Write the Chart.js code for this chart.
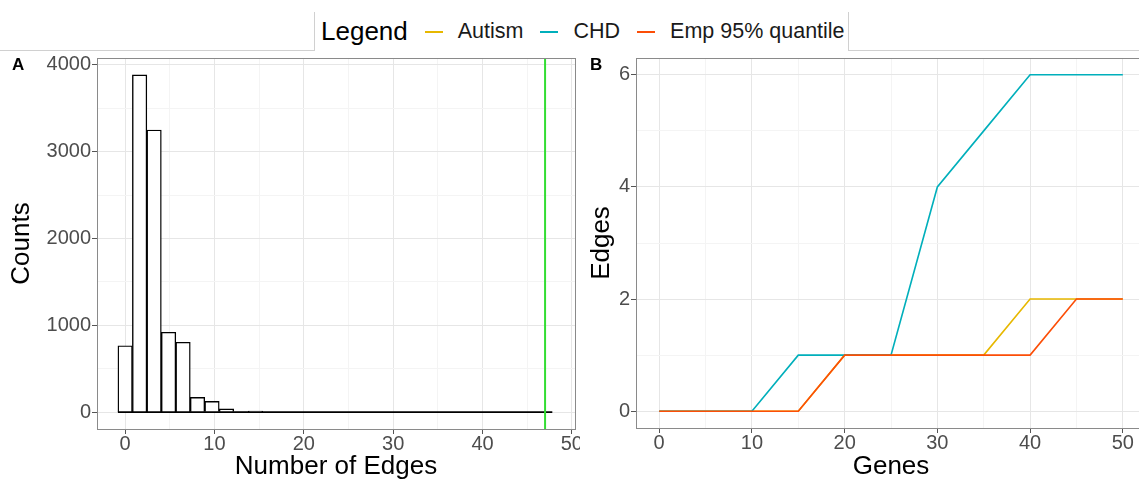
<!DOCTYPE html>
<html>
<head>
<meta charset="utf-8">
<script src="https://cdn.jsdelivr.net/npm/chart.js@4.4.1/dist/chart.umd.min.js"></script>
<style>
  html, body { margin: 0; padding: 0; background: #fff; }
  body { width: 1139px; height: 482px; position: relative; overflow: hidden; font-family: 'Liberation Sans', Arial, sans-serif; }
  .frame-line { position: absolute; background: #d0d0d0; }
  #legend { position: absolute; left: 314px; top: 12px; height: 39px; display: flex; align-items: center; padding-left: 7px; box-sizing: border-box; white-space: nowrap; }
  #legend .ttl { font-size: 26px; color: #000; margin-right: 17px; }
  #legend .item { display: flex; align-items: center; margin-right: 17px; font-size: 21.5px; color: #1a1a1a; white-space: nowrap; }
  #legend .sw { width: 18px; height: 2px; margin-right: 15px; flex: none; }
  .panel-tag { position: absolute; font-weight: bold; font-size: 17px; color: #000; }
  #wrapA { position: absolute; left: 0; top: 0; width: 580px; height: 482px; }
  #wrapB { position: absolute; left: 580px; top: 0; width: 580px; height: 482px; }
</style>
</head>
<body>
<div class="frame-line" style="left:0; top:50px; width:314px; height:1px;"></div>
<div class="frame-line" style="left:314px; top:12px; width:1px; height:39px;"></div>
<div class="frame-line" style="left:848px; top:12px; width:1px; height:39px;"></div>
<div class="frame-line" style="left:848px; top:50px; width:291px; height:1px;"></div>
<div id="legend"><span class="ttl">Legend</span></div>

<div id="wrapA"><canvas id="histChart"></canvas></div>
<div id="wrapB"><canvas id="curveChart"></canvas></div>
<div class="panel-tag" style="left:12px; top:55px;">A</div>
<div class="panel-tag" style="left:590px; top:55px;">B</div>

<script>
// --- Panel A: histogram of edge counts (bin centres, binwidth ~1.62) ---
const binCenters = [0, 1.62, 3.24, 4.86, 6.48, 8.10, 9.72, 11.34, 12.97, 14.59,
                    16.21, 17.83, 19.45, 21.07, 22.69, 24.31, 25.93, 27.55, 29.17, 30.79,
                    32.41, 34.03, 35.66, 37.28, 38.90, 40.52, 42.14, 43.76, 45.38, 47.00];
const binCounts = [765, 3885, 3250, 920, 805, 170, 125, 38, 2, 12,
                   0, 0, 0, 0, 0, 0, 0, 0, 0, 0,
                   0, 0, 0, 0, 0, 0, 0, 0, 0, 0];
const binWidth = 1.62;
const observedEdges = 47; // green line

// --- Panel B: edges found vs number of genes ---
const genes = [0, 5, 10, 15, 20, 25, 30, 35, 40, 45, 50];
const autismEdges = [0, 0, 0, 0, 1, 1, 1, 1, 2, 2, 2];
const chdEdges = [0, 0, 0, 1, 1, 1, 4, 5, 6, 6, 6];
const empEdges = [0, 0, 0, 0, 1, 1, 1, 1, 1, 2, 2];

const seriesNames = ['Autism', 'CHD', 'Emp 95% quantile'];
const seriesColors = ['#E7B800', '#00AFBB', '#FC4E07'];

Chart.defaults.font.family = "'Liberation Sans', Arial, sans-serif";
Chart.defaults.animation = false;
Chart.defaults.responsive = false;

// legend (html)
const legendEl = document.getElementById('legend');
seriesNames.forEach(function(name, i) {
    const item = document.createElement('span');
    item.className = 'item';
    item.innerHTML = '<span class="sw" style="background:' + seriesColors[i] + '"></span>' + name;
    legendEl.appendChild(item);
});

const gridMajor = '#e6e6e6';
const gridMinor = '#f4f4f4';

function axisOpts(min, max, step, labelEvery, title, titlePad, labelPad, sizeFn) {
    const isMajor = v => Math.abs(v / labelEvery - Math.round(v / labelEvery)) < 1e-6;
    // ticks every `step` inside [min, max]
    const tickVals = [];
    for (let v = Math.ceil(min / step) * step; v <= max + 1e-9; v += step) tickVals.push(Math.round(v * 1000) / 1000 + 0);
    return {
        type: 'linear', min: min, max: max, offset: false,
        afterBuildTicks: s => { s.ticks = tickVals.map(v => ({ value: v })); },
        afterFit: s => { sizeFn(s); s.paddingLeft = 0; s.paddingRight = 0; s.paddingTop = 0; s.paddingBottom = 0; },
        border: { display: false },
        grid: {
            offset: false,
            color: ctx => ctx.tick && isMajor(ctx.tick.value) ? gridMajor : gridMinor,
            tickColor: ctx => ctx.tick && isMajor(ctx.tick.value) ? '#555' : 'rgba(0,0,0,0)',
            tickLength: 5, lineWidth: 1
        },
        ticks: {
            autoSkip: false, maxRotation: 0, minRotation: 0,
            color: '#4d4d4d', font: { size: 20 }, padding: labelPad,
            callback: v => isMajor(v) ? String(Math.round(v)) : ''
        },
        title: { display: true, text: title, color: '#000', font: { size: 26 }, padding: titlePad }
    };
}

// panel border + reference line
const panelBorder = {
    id: 'panelBorder',
    afterDatasetsDraw(chart, args, opts) {
        const a = chart.chartArea, c = chart.ctx;
        c.save();
        if (opts.vline !== undefined) {
            const x = chart.scales.x.getPixelForValue(opts.vline);
            c.strokeStyle = '#33dd33'; c.lineWidth = 2;
            c.beginPath(); c.moveTo(x, a.top); c.lineTo(x, a.bottom); c.stroke();
        }
        c.strokeStyle = '#8a8a8a'; c.lineWidth = 1;
        c.strokeRect(Math.round(a.left) + 0.5, Math.round(a.top) + 0.5,
                     Math.round(a.right - a.left), Math.round(a.bottom - a.top));
        c.restore();
    }
};

function makeCanvas(id, w, h) {
    const cv = document.getElementById(id);
    cv.width = w; cv.height = h;
    cv.style.width = w + 'px'; cv.style.height = h + 'px';
    return cv;
}

// Panel A
new Chart(makeCanvas('histChart', 580, 482), {
    type: 'bar',
    data: {
        datasets: [
            {
                type: 'bar',
                data: binCenters.map((x, i) => ({ x: x, y: binCounts[i] })),
                backgroundColor: '#ffffff', borderColor: '#000000', borderWidth: 1.4,
                barPercentage: 1, categoryPercentage: 1, grouped: false, order: 2
            },
            {
                type: 'line',
                data: [
                    { x: binCenters[0] - binWidth / 2, y: 0 },
                    { x: binCenters[binCenters.length - 1] + binWidth / 2, y: 0 }
                ],
                borderColor: '#000000', borderWidth: 1.6, pointRadius: 0, order: 1
            }
        ]
    },
    options: {
        devicePixelRatio: 1,
        layout: { padding: { top: 58, right: 5, left: 0, bottom: 0 } },
        plugins: { legend: { display: false }, tooltip: { enabled: false }, panelBorder: { vline: observedEdges } },
        scales: {
            x: axisOpts(-3.15, 50.35, 5, 10, 'Number of Edges', { top: 0, bottom: 0 }, -2, s => { s.height = 53; }),
            y: axisOpts(-194, 4080, 500, 1000, 'Counts', { top: 6, bottom: 0 }, 1, s => { s.width = 97; })
        }
    },
    plugins: [panelBorder]
});

// Panel B
const curveSets = [autismEdges, chdEdges, empEdges].map(function(vals, i) {
    return {
        label: seriesNames[i],
        data: genes.map((g, j) => ({ x: g, y: vals[j] })),
        borderColor: seriesColors[i], borderWidth: 1.6,
        pointRadius: 0, tension: 0, fill: false,
        order: 3 - i
    };
});

new Chart(makeCanvas('curveChart', 580, 482), {
    type: 'line',
    data: { datasets: curveSets },
    options: {
        devicePixelRatio: 1,
        layout: { padding: { top: 58, right: 14, left: 0, bottom: 0 } },
        plugins: { legend: { display: false }, tooltip: { enabled: false } },
        scales: {
            x: axisOpts(-2.5, 52.5, 5, 10, 'Genes', { top: 0, bottom: 0 }, -2, s => { s.height = 54; }),
            y: axisOpts(-0.3, 6.3, 1, 2, 'Edges', { top: 6, bottom: 0 }, 1, s => { s.width = 56; })
        }
    },
    plugins: [panelBorder]
});
</script>
</body>
</html>
